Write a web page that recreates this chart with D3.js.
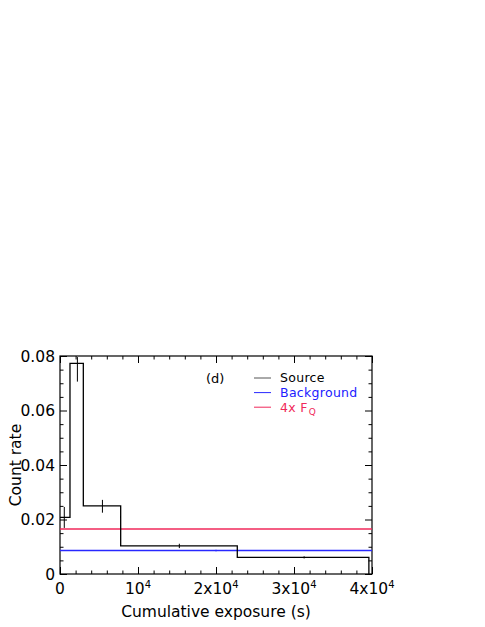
<!DOCTYPE html>
<html><head><meta charset="utf-8">
<script src="https://cdn.jsdelivr.net/npm/d3@7"></script>
<style>
html,body{margin:0;padding:0;background:#fff;}
svg{display:block;font-family:"DejaVu Sans",sans-serif;}
</style></head>
<body><svg id="c" width="485" height="627"></svg>
<script>
// ---- data ----
const binEdges = [0, 1280, 2990, 7780, 22730, 39600];
const sourceRate = [0.0208, 0.0773, 0.0250, 0.0103, 0.0061];
const errX = [550, 2230, 5440, 15300, 31300];
const errLo = [0.0169, 0.0706, 0.0225, 0.0095, 0.0057];
const errHi = [0.0246, 0.0796, 0.0272, 0.0111, 0.0065];
const backgroundRate = 0.0086;
const backgroundErr = [0.0083, 0.0089];
const backgroundErrX = 20000;
const fourFQ = 0.0165;
const xMajor = [0, 10000, 20000, 30000, 40000];
const xMajorLabels = [["0", ""], ["10", "4"], ["2x10", "4"], ["3x10", "4"], ["4x10", "4"]];
const yMajor = [0, 0.02, 0.04, 0.06, 0.08];
const yMajorLabels = ["0", "0.02", "0.04", "0.06", "0.08"];
const xMinorStep = 2000, yMinorStep = 0.005;

const L = 60, R = 372, T = 356, B = 574;
const svg = d3.select("#c");
const x = d3.scaleLinear().domain([0, 40000]).range([L, R]);
const y = d3.scaleLinear().domain([0, 0.08]).range([B, T]);

const xMinor = d3.range(0, 40000 + 1, xMinorStep).filter(v => !xMajor.includes(v));
const yMinor = d3.range(0, 0.08 + 1e-9, yMinorStep).map(v => +v.toFixed(4)).filter(v => !yMajor.includes(v));

function addAxis(gen, tx, ty, vals, size) {
  svg.append("g").attr("transform", `translate(${tx},${ty})`)
    .call(gen.tickValues(vals).tickSize(size).tickSizeOuter(0).tickFormat(""))
    .call(g => { g.select(".domain").remove(); g.selectAll("line").attr("stroke", "#000").attr("stroke-width", 1); });
}
addAxis(d3.axisBottom(x), 0, B, xMajor, -7);
addAxis(d3.axisBottom(x), 0, B, xMinor, -3.5);
addAxis(d3.axisTop(x), 0, T, xMajor, -7);
addAxis(d3.axisTop(x), 0, T, xMinor, -3.5);
addAxis(d3.axisLeft(y), L, 0, yMajor, -7);
addAxis(d3.axisLeft(y), L, 0, yMinor, -3.5);
addAxis(d3.axisRight(y), R, 0, yMajor, -7);
addAxis(d3.axisRight(y), R, 0, yMinor, -3.5);

// frame
svg.append("rect").attr("x", L).attr("y", T).attr("width", R - L).attr("height", B - T)
  .attr("fill", "none").attr("stroke", "#000").attr("stroke-width", 1.2);

// horizontal reference lines
svg.append("line").attr("x1", x(0)).attr("x2", x(40000)).attr("y1", y(fourFQ)).attr("y2", y(fourFQ))
  .attr("stroke", "#f0285a").attr("stroke-width", 1.4);
svg.append("line").attr("x1", x(0)).attr("x2", x(40000)).attr("y1", y(backgroundRate)).attr("y2", y(backgroundRate))
  .attr("stroke", "#2828ff").attr("stroke-width", 1.4);
svg.append("line").attr("x1", x(backgroundErrX)).attr("x2", x(backgroundErrX))
  .attr("y1", y(backgroundErr[0])).attr("y2", y(backgroundErr[1])).attr("stroke", "#2828ff").attr("stroke-width", 1);

// source step
const pts = [];
sourceRate.forEach((v, i) => { pts.push([binEdges[i], v]); pts.push([binEdges[i + 1], v]); });
pts.push([binEdges[binEdges.length - 1], 0]);
svg.append("path").datum(pts)
  .attr("d", d3.line().x(d => x(d[0])).y(d => y(d[1])))
  .attr("fill", "none").attr("stroke", "#000").attr("stroke-width", 1.3);
svg.selectAll(".err").data(errX).enter().append("line")
  .attr("x1", d => x(d)).attr("x2", d => x(d))
  .attr("y1", (d, i) => y(errLo[i])).attr("y2", (d, i) => y(errHi[i]))
  .attr("stroke", "#000").attr("stroke-width", 1);

// tick labels
const fs = 15.5;
xMajor.forEach((v, i) => {
  const t = svg.append("text").attr("x", x(v)).attr("y", 594).attr("text-anchor", "middle")
    .attr("font-size", fs).attr("fill", "#000");
  t.append("tspan").text(xMajorLabels[i][0]);
  if (xMajorLabels[i][1]) t.append("tspan").attr("font-size", 10).attr("dy", -6.5).text(xMajorLabels[i][1]);
});
yMajor.forEach((v, i) => {
  svg.append("text").attr("x", 55).attr("y", y(v) + 5.5).attr("text-anchor", "end")
    .attr("font-size", fs).attr("fill", "#000").text(yMajorLabels[i]);
});

// axis titles
svg.append("text").attr("x", (L + R) / 2).attr("y", 617).attr("text-anchor", "middle")
  .attr("font-size", fs).text("Cumulative exposure (s)");
svg.append("text").attr("transform", `translate(21,${(T + B) / 2}) rotate(-90)`).attr("text-anchor", "middle")
  .attr("font-size", fs).text("Count rate");

// panel tag and legend
svg.append("text").attr("x", 206).attr("y", 383).attr("font-size", 13).text("(d)");
const legend = [
  { name: "Source", color: "#555" , text: "#000"},
  { name: "Background", color: "#2828ff", text: "#2020ff" },
  { name: "4x F", sub: "Q", color: "#f0285a", text: "#f0285a" }
];
legend.forEach((d, i) => {
  const ly = 378 + i * 14.6;
  svg.append("line").attr("x1", 254).attr("x2", 271).attr("y1", ly).attr("y2", ly)
    .attr("stroke", d.color).attr("stroke-width", 1);
  const t = svg.append("text").attr("x", 280).attr("y", ly + 4.3).attr("font-size", 12.5).attr("fill", d.text)
    .attr("letter-spacing", 0.3);
  t.append("tspan").text(d.name);
  if (d.sub) t.append("tspan").attr("font-size", 9).attr("dy", 3).attr("dx", 1).text(d.sub);
});
</script></body></html>
